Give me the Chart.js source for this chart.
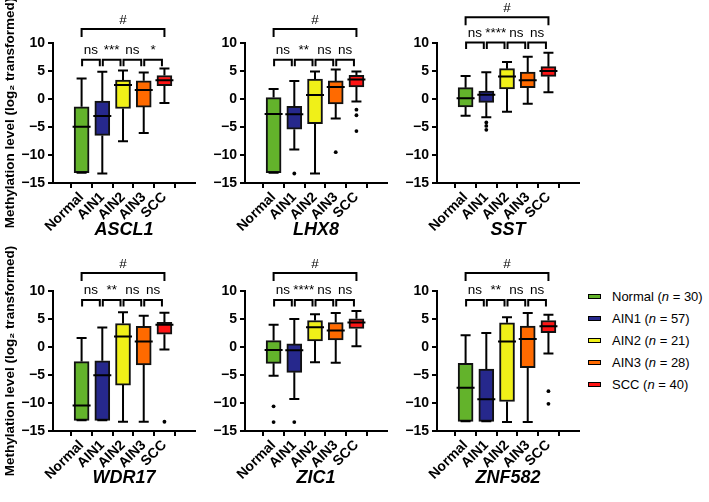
<!DOCTYPE html>
<html>
<head>
<meta charset="utf-8">
<script src="https://cdn.jsdelivr.net/npm/chart.js@4"></script>
<style>
  body { margin: 0; background: #fff; width: 709px; height: 502px; position: relative; overflow: hidden;
         font-family: "Liberation Sans", Arial, "DejaVu Sans", sans-serif; }
  canvas { position: absolute; }
  #legend { position: absolute; left: 588px; top: 286px; font-size: 13px; color: #000; }
  .item { height: 21.8px; display: flex; align-items: center; white-space: nowrap; }
  .sw { width: 11px; height: 3px; border: 1.5px solid #000; margin-right: 11px; }
</style>
</head>
<body>
<div id="panels"></div>
<div id="legend"></div>
<script>
// Groups and colours
const groups = ['Normal', 'AIN1', 'AIN2', 'AIN3', 'SCC'];
const groupN = [30, 57, 21, 28, 40];
const groupColors = ['#63b32b', '#26288c', '#f0f018', '#ff6a00', '#ff1414'];
const genes = ['ASCL1', 'LHX8', 'SST', 'WDR17', 'ZIC1', 'ZNF582'];
const yTicks = [-15, -10, -5, 0, 5, 10];

// Box stats per group: [low whisker, Q1, median, Q3, high whisker]
const ascl1Stats = [[-13.15, -13.15, -4.95, -1.4, 3.65], [-13.3, -6.5, -3.05, -0.35, 4.87], [-7.55, -1.7, 2.5, 3.4, 5.1], [-6.05, -1.45, 1.6, 3.25, 4.72], [-0.72, 2.38, 3.33, 4.2, 5.45]];
const lhx8Stats = [[-13.15, -13.15, -2.67, 0.25, 1.8], [-9.0, -5.4, -2.72, -1.3, 3.23], [-13.3, -4.4, 0.7, 3.56, 4.9], [-3.5, -0.87, 2.13, 3.23, 5.27], [-0.45, 2.16, 3.5, 4.22, 4.9]];
const sstStats = [[-2.98, -1.43, 0.12, 2.02, 4.1], [-3.27, -0.6, 0.77, 1.43, 4.76], [-2.26, 1.79, 4.0, 5.42, 6.6], [-0.83, 2.02, 3.33, 4.82, 7.56], [1.19, 4.05, 5.0, 5.77, 8.27]];
const wdr17Stats = [[-13.1, -13.1, -10.45, -2.6, 1.62], [-13.1, -13.1, -5.05, -2.45, 3.48], [-13.35, -6.8, 1.87, 4.2, 6.2], [-13.35, -3.2, 1.0, 3.7, 5.57], [-0.45, 2.28, 3.96, 4.4, 6.13]];
const zic1Stats = [[-5.13, -2.92, -0.53, 1.15, 3.96], [-9.3, -4.53, -0.6, 0.55, 5.0], [-2.74, 1.09, 3.54, 4.74, 5.87], [-2.8, 1.27, 2.94, 4.38, 6.05], [0.13, 3.3, 4.38, 5.04, 6.41]];
const znf582Stats = [[-13.27, -13.27, -7.28, -2.92, 2.1], [-13.27, -13.27, -9.32, -3.94, 2.52], [-13.4, -9.74, 0.97, 4.32, 5.33], [-13.4, -3.7, 1.45, 3.72, 6.05], [-1.18, 2.58, 3.72, 4.74, 5.75]];

// Outliers: [group index, value]
const ascl1Outliers = [];
const lhx8Outliers = [[1, -13.3], [3, -9.5], [4, -1.9], [4, -2.9], [4, -5.73]];
const sstOutliers = [[1, -4.2], [1, -4.8], [1, -5.5]];
const wdr17Outliers = [[4, -13.35]];
const zic1Outliers = [[0, -10.6], [0, -13.4], [1, -13.4]];
const znf582Outliers = [[4, -7.88], [4, -10.15]];

// Significance labels for adjacent pairs, then the overall test
const ascl1Sig = ['ns', '***', 'ns', '*'];
const lhx8Sig = ['ns', '**', 'ns', 'ns'];
const sstSig = ['ns', '****', 'ns', 'ns'];
const wdr17Sig = ['ns', '**', 'ns', 'ns'];
const zic1Sig = ['ns', '****', 'ns', 'ns'];
const znf582Sig = ['ns', '**', 'ns', 'ns'];
const overallSig = '#';

// Bracket heights in data units: [pairwise, overall]
const bracketLevels = [[7.0, 12.5], [7.0, 12.5], [10.1, 14.6], [8.4, 13.2], [8.4, 13.2], [8.4, 13.2]];

const allStats = [ascl1Stats, lhx8Stats, sstStats, wdr17Stats, zic1Stats, znf582Stats];
const allOutliers = [ascl1Outliers, lhx8Outliers, sstOutliers, wdr17Outliers, zic1Outliers, znf582Outliers];
const allSig = [ascl1Sig, lhx8Sig, sstSig, wdr17Sig, zic1Sig, znf582Sig];

// Panel placement
const panelLayout = [
  { left: 0, top: 0, yW: 53, padTop: 43 },
  { left: 205, top: 0, yW: 40, padTop: 43 },
  { left: 397, top: 0, yW: 40, padTop: 43 },
  { left: 0, top: 240, yW: 53, padTop: 51 },
  { left: 205, top: 240, yW: 40, padTop: 51 },
  { left: 397, top: 240, yW: 40, padTop: 51 },
];
const plotW = 142, plotH = 140, xAxisH = 62, padRight = 8;
const FONT = '"Liberation Sans", Arial, "DejaVu Sans", sans-serif';

Chart.defaults.font.family = FONT;
Chart.defaults.color = '#000';

function fmtTick(v) {
  return v < 0 ? '\u2212' + Math.abs(v) : String(v);
}

// whiskers, medians and significance brackets
function makeBoxPlugin(stats, sig, levels) {
  return {
    id: 'boxExtras',
    afterDatasetsDraw(chart) {
      const { ctx, scales: { x, y } } = chart;
      ctx.save();
      ctx.strokeStyle = '#000';
      ctx.lineWidth = 2;
      ctx.beginPath();
      stats.forEach((s, i) => {
        const cx = x.getPixelForValue(i);
        const [lo, q1, med, q3, hi] = s.map(v => y.getPixelForValue(v));
        ctx.moveTo(cx, hi); ctx.lineTo(cx, q3);
        ctx.moveTo(cx, q1); ctx.lineTo(cx, lo);
        ctx.moveTo(cx - 5, hi); ctx.lineTo(cx + 5, hi);
        ctx.moveTo(cx - 5, lo); ctx.lineTo(cx + 5, lo);
        ctx.moveTo(cx - 9, med); ctx.lineTo(cx + 9, med);
      });
      ctx.stroke();
      ctx.restore();
    },
    afterDraw(chart) {
      const { ctx, scales: { x, y } } = chart;
      ctx.save();
      ctx.strokeStyle = '#000';
      ctx.fillStyle = '#000';
      ctx.lineWidth = 2;
      ctx.font = '13.5px ' + FONT;
      ctx.textAlign = 'center';
      ctx.textBaseline = 'alphabetic';
      const py = y.getPixelForValue(levels[0]);
      for (let i = 0; i < groups.length - 1; i++) {
        const x1 = x.getPixelForValue(i) + 0.5;
        const x2 = x.getPixelForValue(i + 1) - 2.5;
        ctx.beginPath();
        ctx.moveTo(x1, py + 6.5); ctx.lineTo(x1, py); ctx.lineTo(x2, py); ctx.lineTo(x2, py + 6.5);
        ctx.stroke();
        ctx.fillText(sig[i], (x1 + x2) / 2, py - 5.5);
      }
      const by = y.getPixelForValue(levels[1]);
      const b1 = x.getPixelForValue(0), b2 = x.getPixelForValue(groups.length - 1);
      ctx.beginPath();
      ctx.moveTo(b1, by + 8); ctx.lineTo(b1, by); ctx.lineTo(b2, by); ctx.lineTo(b2, by + 8);
      ctx.stroke();
      ctx.fillText(overallSig, (b1 + b2) / 2, by - 5.5);
      ctx.restore();
    },
  };
}

const panels = document.getElementById('panels');

genes.forEach((gene, g) => {
  const lay = panelLayout[g];
  const canvas = document.createElement('canvas');
  canvas.width = lay.yW + plotW + padRight;
  canvas.height = lay.padTop + plotH + xAxisH;
  canvas.style.left = lay.left + 'px';
  canvas.style.top = lay.top + 'px';
  panels.appendChild(canvas);

  const stats = allStats[g];
  const showTitle = lay.left === 0;

  new Chart(canvas.getContext('2d'), {
    type: 'bar',
    data: {
      datasets: [{
        label: gene,
        data: stats.map((s, i) => ({ x: i, y: [s[1], s[3]] })),
        backgroundColor: groupColors,
        borderColor: '#111',
        borderWidth: 2,
        borderSkipped: false,
        barThickness: 15,
      }, {
        type: 'scatter',
        label: 'outliers',
        data: allOutliers[g].map(o => ({ x: o[0], y: o[1] })),
        pointRadius: 1.9,
        pointBackgroundColor: '#000',
        pointBorderWidth: 0,
      }],
    },
    options: {
      responsive: false,
      animation: false,
      events: [],
      layout: { padding: { top: lay.padTop, right: padRight, left: 0, bottom: 0 } },
      plugins: { legend: { display: false }, tooltip: { enabled: false } },
      scales: {
        x: {
          type: 'linear',
          bounds: 'data',
          min: -0.695,
          max: 4.79,
          afterBuildTicks: axis => { axis.ticks = groups.map((_, i) => ({ value: i })); },
          afterFit: axis => { axis.height = xAxisH; },
          ticks: {
            autoSkip: false,
            minRotation: 45,
            maxRotation: 45,
            padding: 1,
            font: { size: 14, weight: 'bold' },
            callback: v => groups[v],
          },
          grid: { drawOnChartArea: false, drawTicks: true, tickLength: 5, color: '#000', lineWidth: 2 },
          border: { display: true, color: '#000', width: 2 },
          title: {
            display: true,
            text: gene,
            font: { size: 18, weight: 'bold', style: 'italic' },
            padding: { top: 0, bottom: 4 },
          },
        },
        y: {
          min: -15,
          max: 10,
          afterBuildTicks: axis => { axis.ticks = yTicks.map(v => ({ value: v })); },
          afterFit: axis => { axis.width = lay.yW; },
          ticks: { padding: 3, font: { size: 14, weight: 'bold' }, callback: fmtTick },
          grid: { drawOnChartArea: false, drawTicks: true, tickLength: 5, color: '#000', lineWidth: 2 },
          border: { display: true, color: '#000', width: 2 },
          title: {
            display: showTitle,
            text: 'Methylation level (log\u2082 transformed)',
            font: { size: 13.5, weight: 'bold' },
            padding: { top: 2, bottom: 0 },
          },
        },
      },
    },
    plugins: [makeBoxPlugin(stats, allSig[g], bracketLevels[g])],
  });
});

// Legend
const legend = document.getElementById('legend');
groups.forEach((name, i) => {
  const row = document.createElement('div');
  row.className = 'item';
  row.innerHTML = '<span class="sw" style="background:' + groupColors[i] + '"></span>' +
    name + '&nbsp;(<i>n</i>&nbsp;=&nbsp;' + groupN[i] + ')';
  legend.appendChild(row);
});
</script>
</body>
</html>
